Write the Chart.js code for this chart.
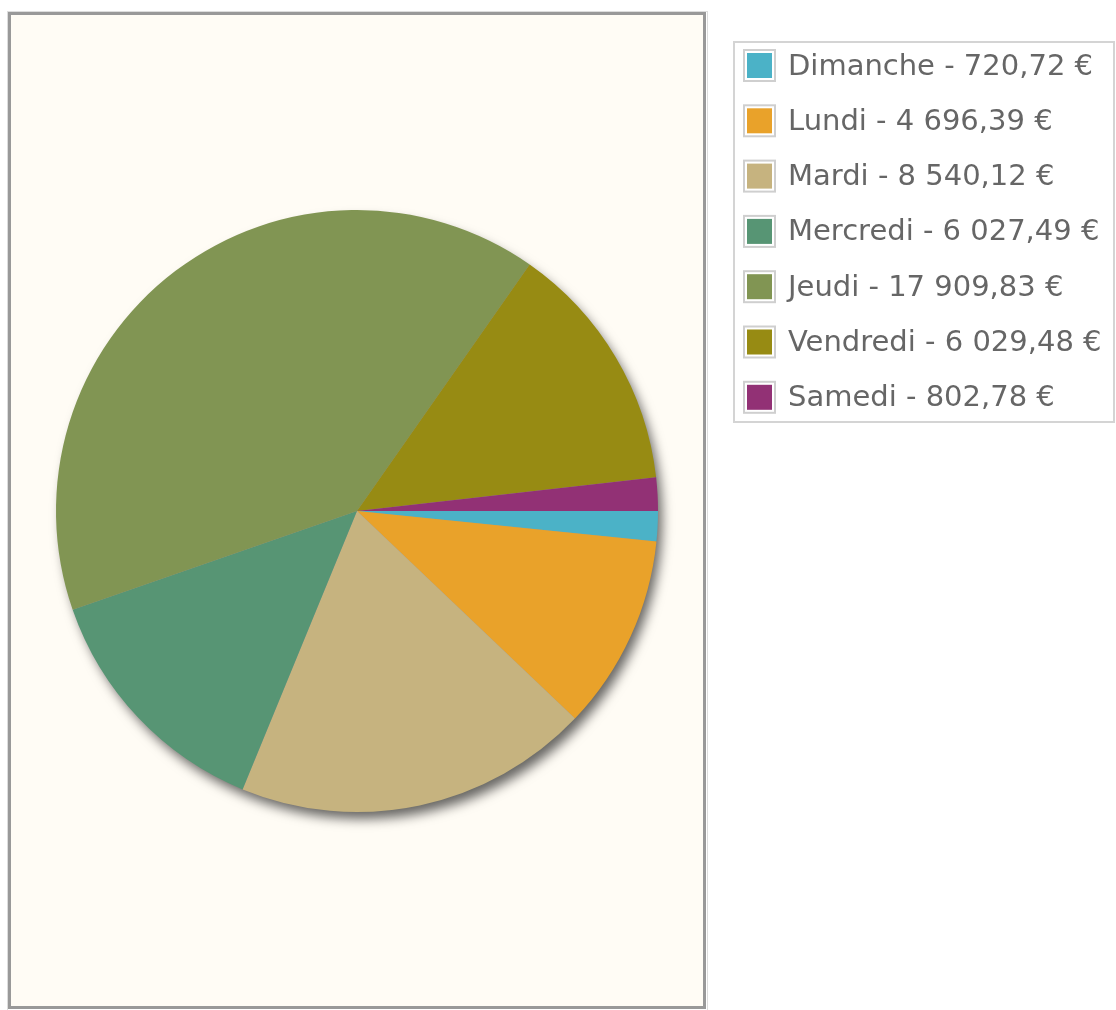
<!DOCTYPE html>
<html>
<head>
<meta charset="utf-8">
<script src="https://cdn.jsdelivr.net/npm/chart.js@4"></script>
<style>
  html, body { margin: 0; padding: 0; background: #fff; font-family: "DejaVu Sans", sans-serif; }
  canvas { display: block; }
</style>
</head>
<body>
<canvas id="pieChart" width="1116" height="1010"></canvas>
<script>
const days = ["Dimanche", "Lundi", "Mardi", "Mercredi", "Jeudi", "Vendredi", "Samedi"];
const amounts = [720.72, 4696.39, 8540.12, 6027.49, 17909.83, 6029.48, 802.78];
const amountLabels = ["720,72 €", "4 696,39 €", "8 540,12 €", "6 027,49 €", "17 909,83 €", "6 029,48 €", "802,78 €"];
const colors = ["#4BB2C7", "#E9A22A", "#C6B37F", "#579574", "#819553", "#978B13", "#923175"];

// plot box + drop shadow under the pie
const plotBox = {
  id: "plotBox",
  beforeDraw(chart) {
    const ctx = chart.ctx;
    ctx.save();
    ctx.fillStyle = "#FFFCF5";
    ctx.fillRect(9, 13, 696, 995);
    ctx.strokeStyle = "#dddddd";
    ctx.lineWidth = 1;
    ctx.strokeRect(7.5, 11.5, 700, 999);
    ctx.strokeStyle = "#999999";
    ctx.lineWidth = 3;
    ctx.strokeRect(9.5, 13.5, 695, 994);
    ctx.restore();
  },
  beforeDatasetsDraw(chart) {
    const arc = chart.getDatasetMeta(0).data[0];
    if (!arc) return;
    const ctx = chart.ctx;
    ctx.save();
    ctx.shadowColor = "rgba(0,0,0,0.6)";
    ctx.shadowBlur = 12;
    ctx.shadowOffsetX = 5;
    ctx.shadowOffsetY = 8;
    ctx.fillStyle = "#999";
    ctx.beginPath();
    ctx.arc(arc.x, arc.y, arc.outerRadius - 1, 0, Math.PI * 2);
    ctx.fill();
    ctx.restore();
  }
};

// legend box on the right
const sideLegend = {
  id: "sideLegend",
  afterDraw(chart) {
    const ctx = chart.ctx;
    ctx.save();
    ctx.fillStyle = "#fff";
    ctx.fillRect(734, 42, 380, 380);
    ctx.strokeStyle = "#d4d4d4";
    ctx.lineWidth = 2;
    ctx.strokeRect(734, 42, 380, 380);
    ctx.font = "29px 'DejaVu Sans', sans-serif";
    ctx.textBaseline = "alphabetic";
    days.forEach((d, i) => {
      const y = 65 + i * 55.3;
      ctx.strokeStyle = "#cfcfcf";
      ctx.lineWidth = 2;
      ctx.strokeRect(744, y - 15, 31, 31);
      ctx.fillStyle = colors[i];
      ctx.fillRect(747, y - 12, 25, 25);
      ctx.fillStyle = "#666";
      ctx.fillText(d + " - " + amountLabels[i], 788, y + 9.5);
    });
    ctx.restore();
  }
};

new Chart(document.getElementById("pieChart"), {
  type: "pie",
  data: {
    labels: days,
    datasets: [{
      data: amounts,
      backgroundColor: colors,
      borderWidth: 0,
      radius: 301
    }]
  },
  options: {
    responsive: false,
    animation: false,
    events: [],
    rotation: 90,
    layout: { padding: { left: 8, right: 410, top: 14, bottom: 2 } },
    plugins: {
      legend: { display: false },
      tooltip: { enabled: false }
    }
  },
  plugins: [plotBox, sideLegend]
});
</script>
</body>
</html>
